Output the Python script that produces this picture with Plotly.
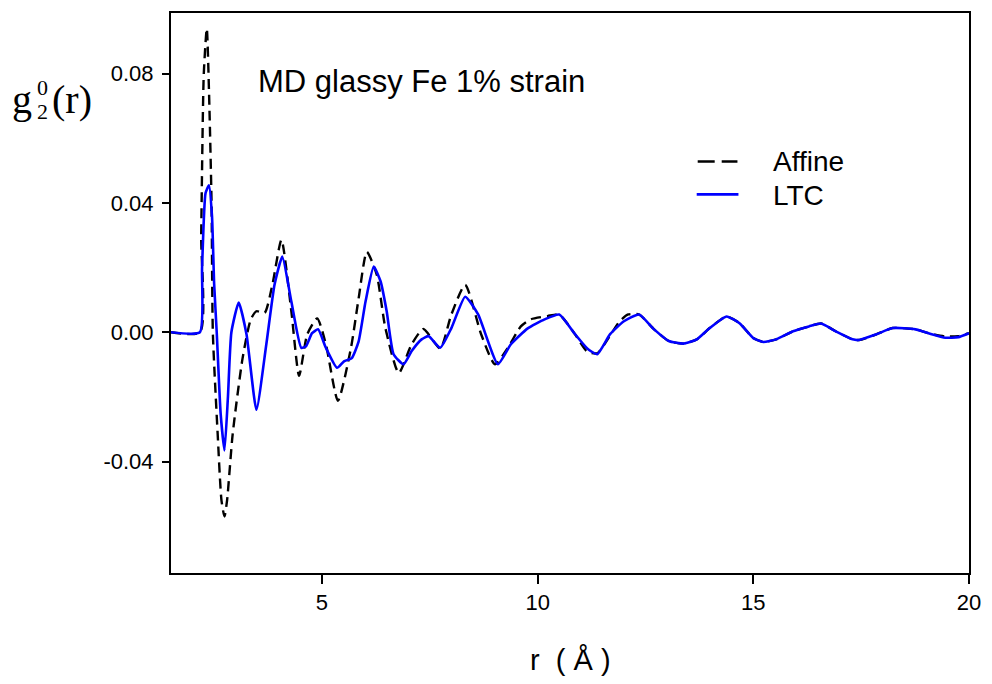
import plotly.graph_objects as go

# ---- data ----
r_affine = [1.5, 2.17, 2.2, 2.26, 2.33, 2.38, 2.44, 2.47, 2.58, 2.67, 2.74, 2.8, 2.93, 3.16, 3.35, 3.48,
            3.67, 3.85, 4.06, 4.29, 4.47, 4.66, 4.89, 5.09, 5.37, 5.67, 5.85, 6.04, 6.27, 6.47, 6.78,
            7.08, 7.35, 7.74, 8.0, 8.32, 8.69, 9.01, 9.3, 9.61, 9.84, 10.23, 10.5, 10.85, 11.15, 11.38,
            11.68, 11.9, 12.1, 12.35, 12.7, 13.04, 13.39, 13.69, 13.99, 14.38, 14.68, 15.0, 15.23, 15.53,
            15.92, 16.29, 16.57, 16.91, 17.3, 17.45, 17.84, 18.23, 18.76, 19.06, 19.45, 19.75, 20.0]
g_affine = [0.0, 0.0, 0.03, 0.08, 0.094, 0.075, 0.04, 0.0, -0.031, -0.052, -0.057, -0.052, -0.0315, -0.008, 0.004, 0.0065,
            0.006, 0.0147, 0.0286, 0.0065, -0.0135, -0.0006, 0.0043, -0.0037, -0.0212, -0.005, 0.0105, 0.0249, 0.0178, 0.0013, -0.0126,
            -0.0037, 0.001, -0.005, 0.0055, 0.0147, -0.0006, -0.0099, -0.005, 0.0018, 0.004, 0.005, 0.0055, -0.0003, -0.006, -0.0065,
            -0.001, 0.0034, 0.0055, 0.0055, 0.0009, -0.0027, -0.0035, -0.0022, 0.0013, 0.0049, 0.0028, -0.0018, -0.003, -0.0022,
            0.0003, 0.0018, 0.0027, 0.0003, -0.0022, -0.0024, -0.0007, 0.0013, 0.0009, -0.0003, -0.0013, -0.0012, -0.0003]

r_ltc = [1.5, 2.17, 2.22, 2.3, 2.38, 2.45, 2.5, 2.56, 2.65, 2.74, 2.82, 2.9, 3.07, 3.25, 3.48, 3.71, 3.9, 4.08,
         4.29, 4.52, 4.63, 4.77, 4.91, 5.09, 5.35, 5.51, 5.69, 5.85, 6.01, 6.2, 6.36, 6.5, 6.66, 6.89, 7.08,
         7.31, 7.47, 7.74, 8.0, 8.32, 8.62, 9.08, 9.38, 9.77, 10.16, 10.5, 10.85, 11.15, 11.38, 11.68, 12.0,
         12.35, 12.7, 13.04, 13.39, 13.69, 13.99, 14.38, 14.68, 15.0, 15.23, 15.53, 15.92, 16.29, 16.57, 16.91,
         17.3, 17.45, 17.84, 18.23, 18.76, 19.06, 19.45, 19.75, 20.0]
g_ltc = [0.0, 0.0, 0.02, 0.043, 0.0455, 0.036, 0.015, 0.0, -0.025, -0.0366, -0.02, 0.0, 0.0092, -0.0006, -0.024, -0.0037, 0.0147, 0.0234,
         0.0095, -0.0048, -0.0043, -0.0003, 0.0009, -0.0048, -0.011, -0.009, -0.008, -0.0028, 0.0095, 0.0203, 0.0157, 0.0065, -0.0068, -0.0099, -0.0058,
         -0.0022, -0.0012, -0.0048, 0.0013, 0.011, 0.0055, -0.0099, -0.0037, 0.0012, 0.004, 0.0055, -0.0003, -0.005, -0.0068, -0.0006, 0.0034,
         0.0055, 0.0009, -0.0027, -0.0035, -0.0022, 0.0013, 0.0049, 0.0028, -0.0018, -0.003, -0.0022, 0.0003, 0.0018, 0.0027, 0.0003,
         -0.0022, -0.0024, -0.0007, 0.0013, 0.0009, -0.0003, -0.0017, -0.0015, -0.0003]

x_ticks = [5, 10, 15, 20]
y_ticks = [0.08, 0.04, 0.0, -0.04]
y_ticktext = ["0.08", "0.04", "0.00", "-0.04"]
series_names = ["Affine", "LTC"]

W, H = 992, 684
L, R, T, B = 171, 18, 11, 111
PW, PH = W - L - R, H - T - B


def px(x):
    return (x - L) / PW


def py(y):
    return (H - B - y) / PH


sans = "Liberation Sans, Arial"
serif = "Liberation Serif, Times New Roman"
dash_style = "10px,6px"

fig = go.Figure()
fig.add_trace(go.Scatter(x=r_affine, y=g_affine, mode="lines", name=series_names[0],
                         line=dict(color="black", width=2.4, dash=dash_style, shape="spline", smoothing=0.6)))
fig.add_trace(go.Scatter(x=r_ltc, y=g_ltc, mode="lines", name=series_names[1],
                         line=dict(color="#0000ff", width=2.6, shape="spline", smoothing=0.5)))

axis_common = dict(showgrid=False, zeroline=False, showline=True, linecolor="black", linewidth=2,
                   mirror=True, ticks="outside", tickwidth=1.5, tickcolor="black",
                   tickfont=dict(family=sans, size=22, color="black"))
fig.update_xaxes(range=[1.5, 20], tickvals=x_ticks, ticklen=9, **axis_common)
fig.update_yaxes(range=[-0.0745, 0.0988], tickvals=y_ticks, ticktext=y_ticktext, ticklen=7,
                 ticklabelstandoff=4, **axis_common)

ann = [
    dict(x=px(257), y=py(80), text="MD glassy Fe 1% strain", xanchor="left", yanchor="middle",
         font=dict(family=sans, size=31, color="black")),
    dict(x=px(573), y=py(660), text="r  ( Å )", xanchor="center", yanchor="middle",
         font=dict(family=sans, size=29, color="black")),
    dict(x=px(9), y=py(98), text="g", xanchor="left", yanchor="middle",
         font=dict(family=serif, size=40, color="black")),
    dict(x=px(34), y=py(86), text="0", xanchor="left", yanchor="middle",
         font=dict(family=serif, size=22, color="black")),
    dict(x=px(34), y=py(110), text="2", xanchor="left", yanchor="middle",
         font=dict(family=serif, size=22, color="black")),
    dict(x=px(49), y=py(98), text="(r)", xanchor="left", yanchor="middle",
         font=dict(family=serif, size=40, color="black")),
    dict(x=px(775), y=py(160), text=series_names[0], xanchor="left", yanchor="middle",
         font=dict(family=sans, size=28, color="black")),
    dict(x=px(775), y=py(194), text=series_names[1], xanchor="left", yanchor="middle",
         font=dict(family=sans, size=28, color="black")),
]
for a in ann:
    fig.add_annotation(xref="paper", yref="paper", showarrow=False, **a)

# legend sample lines
fig.add_shape(type="line", xref="paper", yref="paper", x0=px(701), x1=px(741), y0=py(160), y1=py(160),
              line=dict(color="black", width=2.4, dash="17px,7px"))
fig.add_shape(type="line", xref="paper", yref="paper", x0=px(700), x1=px(742), y0=py(193), y1=py(193),
              line=dict(color="#0000ff", width=2.6))

fig.update_layout(
    width=W, height=H, margin=dict(l=L, r=R, t=T, b=B),
    paper_bgcolor="white", plot_bgcolor="white",
    showlegend=False,
)

fig.write_html("out.html", config={"displayModeBar": False},
               post_script="document.body.style.margin='0';")
